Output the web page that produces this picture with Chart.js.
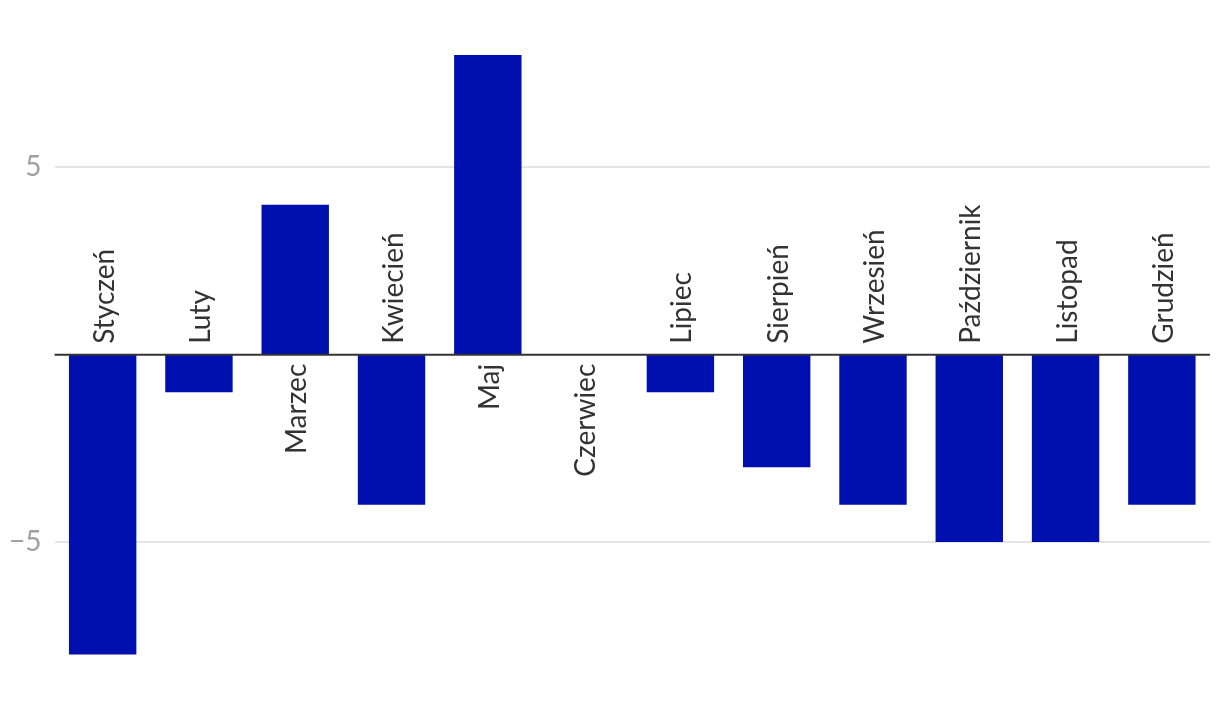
<!DOCTYPE html>
<html>
<head>
<meta charset="utf-8">
<script src="https://cdn.jsdelivr.net/npm/chart.js@4/dist/chart.umd.min.js"></script>
<style>
html,body{margin:0;padding:0;background:#fff;}
#wrap{width:1220px;height:714px;position:relative;}
</style>
</head>
<body>
<div id="wrap"><canvas id="c" width="1220" height="714"></canvas></div>
<script>
const categories = ["Styczeń","Luty","Marzec","Kwiecień","Maj","Czerwiec","Lipiec","Sierpień","Wrzesień","Październik","Listopad","Grudzień"];
const values = [-8,-1,4,-4,8,0,-1,-3,-4,-5,-5,-4];
const yTicks = [-5,5];

const FONT = "Lato, 'Noto Sans', sans-serif";

const labelPlugin = {
  id:'catLabels',
  afterDatasetsDraw(chart){
    const ctx = chart.ctx;
    const ys = chart.scales.y, xs = chart.scales.x;
    const ca = chart.chartArea;
    const y0 = ys.getPixelForValue(0);
    ctx.save();
    ctx.strokeStyle = '#333333';
    ctx.lineWidth = 2;
    ctx.beginPath();
    ctx.moveTo(ca.left, y0);
    ctx.lineTo(ca.right, y0);
    ctx.stroke();
    ctx.fillStyle = '#333333';
    ctx.font = '28px ' + FONT;
    ctx.textBaseline = 'middle';
    categories.forEach((c,i)=>{
      const x = xs.getPixelForValue(i) + 2;
      ctx.save();
      ctx.translate(x, y0);
      ctx.rotate(-Math.PI/2);
      if (values[i] < 0) {
        ctx.textAlign = 'left';
        ctx.fillText(c, 11, 0);
      } else {
        ctx.textAlign = 'right';
        ctx.fillText(c, -9, 0);
      }
      ctx.restore();
    });
    ctx.restore();
  }
};

new Chart(document.getElementById('c'), {
  type:'bar',
  data:{
    labels: categories,
    datasets:[{
      data: values,
      backgroundColor:'#0010AE',
      borderWidth:0,
      barPercentage:0.7,
      categoryPercentage:1
    }]
  },
  options:{
    responsive:false,
    animation:false,
    devicePixelRatio:1,
    layout:{padding:{left:0,right:10,top:17.5,bottom:22}},
    plugins:{legend:{display:false},tooltip:{enabled:false}},
    scales:{
      x:{display:false},
      y:{
        min:-9,max:9,
        border:{display:false},
        grid:{color:'#e4e4e4',lineWidth:2,drawTicks:false},
        afterBuildTicks(s){ s.ticks = yTicks.map(v=>({value:v})); },
        afterFit(s){ s.width = 54.5; s.paddingTop = 0; s.paddingBottom = 0; },
        ticks:{
          padding:13,
          color:'#a0a0a0',
          font:{family:FONT,size:28},
          callback:(v)=> v<0 ? '\u2212'+Math.abs(v) : String(v)
        }
      }
    }
  },
  plugins:[labelPlugin]
});
</script>
</body>
</html>
